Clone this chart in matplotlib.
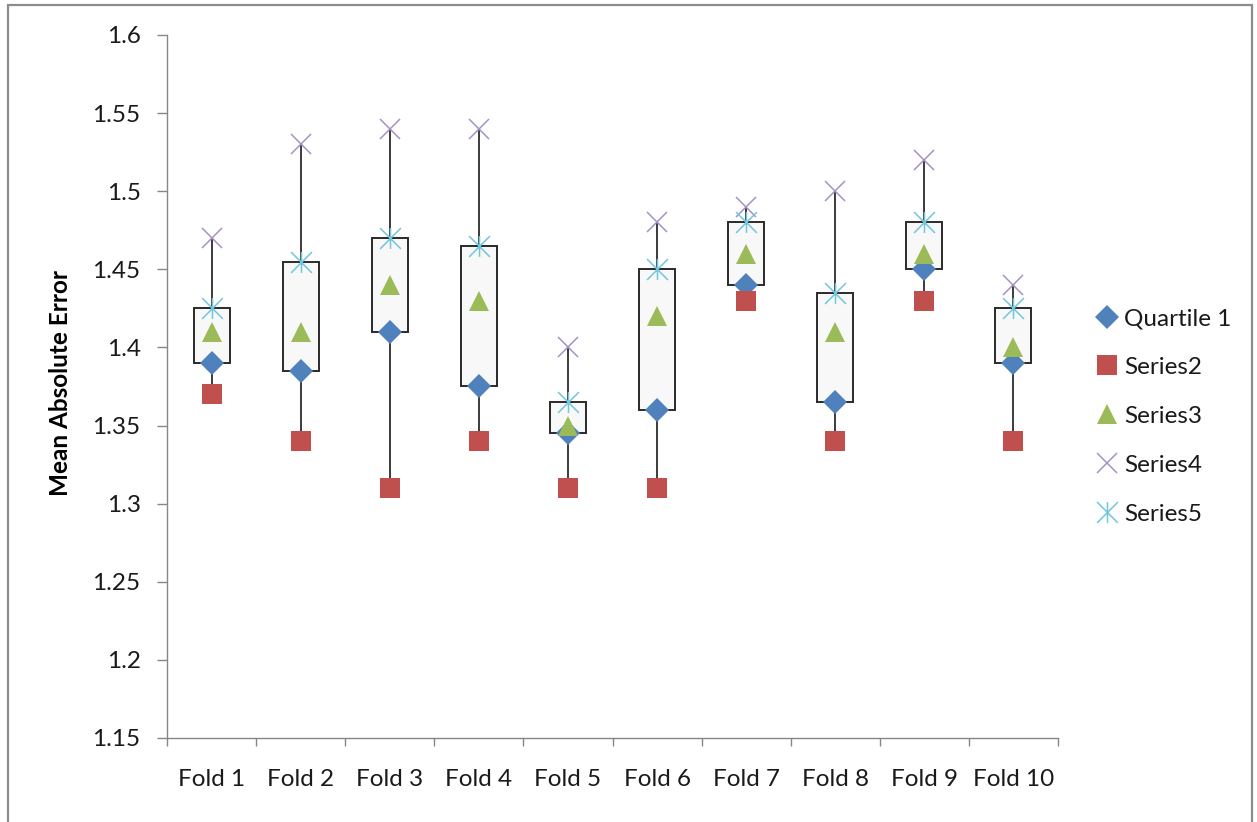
import matplotlib
matplotlib.use("Agg")
import matplotlib.pyplot as plt
from matplotlib.path import Path
from matplotlib.patches import Rectangle
import numpy as np

folds = ["Fold 1", "Fold 2", "Fold 3", "Fold 4", "Fold 5",
         "Fold 6", "Fold 7", "Fold 8", "Fold 9", "Fold 10"]
quartile1 = [1.39, 1.385, 1.41, 1.375, 1.345, 1.36, 1.44, 1.365, 1.45, 1.39]
series2 = [1.37, 1.34, 1.31, 1.34, 1.31, 1.31, 1.43, 1.34, 1.43, 1.34]
series3 = [1.41, 1.41, 1.44, 1.43, 1.35, 1.42, 1.46, 1.41, 1.46, 1.40]
series4 = [1.47, 1.53, 1.54, 1.54, 1.40, 1.48, 1.49, 1.50, 1.52, 1.44]
series5 = [1.425, 1.455, 1.47, 1.465, 1.365, 1.45, 1.48, 1.435, 1.48, 1.425]
yticks = [1.15, 1.2, 1.25, 1.3, 1.35, 1.4, 1.45, 1.5, 1.55, 1.6]
ytick_labels = ["1.15", "1.2", "1.25", "1.3", "1.35", "1.4", "1.45", "1.5", "1.55", "1.6"]

FONT = "Lato"
FS = 17.5
plt.rcParams['font.family'] = [FONT, 'DejaVu Sans']

fig = plt.figure(figsize=(12.57, 8.22), dpi=100)
W, H = 1257, 822
ax = fig.add_axes([167 / W, 1 - 738 / H, (1058 - 167) / W, (738 - 35) / H])

x = np.arange(len(folds))
lo = np.array(quartile1)
hi = np.array(series5)

# whiskers
ax.vlines(x, series2, series4, colors="#1a1a1a", linewidth=1.2, zorder=1)
# boxes
ax.bar(x, hi - lo, bottom=lo, width=0.405, color="#f8f8f8",
       edgecolor="#2a2a2a", linewidth=1.4, zorder=2)

# asterisk marker (vertical + two diagonals)
star = Path([(0, -1), (0, 1), (-1, -1), (1, 1), (-1, 1), (1, -1)],
            [Path.MOVETO, Path.LINETO, Path.MOVETO, Path.LINETO, Path.MOVETO, Path.LINETO])

ax.plot(x, quartile1, linestyle="none", marker="D", markersize=12,
        color="#4f81bd", markeredgewidth=0, zorder=3, label="Quartile 1")
ax.plot(x, series2, linestyle="none", marker="s", markersize=14,
        color="#c0504d", markeredgewidth=0, zorder=4, label="Series2")
ax.plot(x, series3, linestyle="none", marker="^", markersize=14.5,
        color="#9bbb59", markeredgewidth=0, zorder=5, label="Series3")
ax.plot(x, series4, linestyle="none", marker="x", markersize=15,
        color="#a591c6", markeredgewidth=1.1, zorder=6, label="Series4")
ax.plot(x, series5, linestyle="none", marker=star, markersize=15,
        color="#72c6de", markeredgewidth=1.1, zorder=7, label="Series5")

ax.set_xlim(-0.5, len(folds) - 0.5)
ax.set_ylim(1.15, 1.6)
ax.set_yticks(yticks)
ax.set_yticklabels(ytick_labels)
ax.set_xticks(x)
ax.set_xticklabels(folds)
ax.set_xticks(np.arange(len(folds) + 1) - 0.5, minor=True)

for s in ["top", "right"]:
    ax.spines[s].set_visible(False)
for s in ["left", "bottom"]:
    ax.spines[s].set_color("#868686")
    ax.spines[s].set_linewidth(1.0)

ax.tick_params(axis="y", direction="out", length=7, width=1.0, color="#868686",
               pad=12, labelsize=FS, labelcolor="#1a1a1a")
ax.tick_params(axis="x", which="major", length=0, pad=22, labelsize=FS, labelcolor="#1a1a1a")
ax.tick_params(axis="x", which="minor", direction="out", length=6, width=1.0, color="#868686")

ax.set_ylabel("Mean Absolute Error", fontsize=17.5, fontweight="bold", color="#000000")
ax.yaxis.set_label_coords((72 - 167) / (1058 - 167), 0.505)

leg = fig.legend(loc="upper left", bbox_to_anchor=(1096 / W, 1 - 308 / H),
                 frameon=False, fontsize=FS, handlelength=0.9, handletextpad=0.25,
                 labelspacing=1.15, borderpad=0, borderaxespad=0)
for t in leg.get_texts():
    t.set_color("#1a1a1a")

# outer frame
frame = Rectangle((8 / W, -0.05), (1252 - 8) / W, 1.05 - 5 / H,
                  transform=fig.transFigure, fill=False, edgecolor="#8c8c8c",
                  linewidth=1.6, zorder=0)
fig.add_artist(frame)

fig.savefig("out.png", dpi=100)
